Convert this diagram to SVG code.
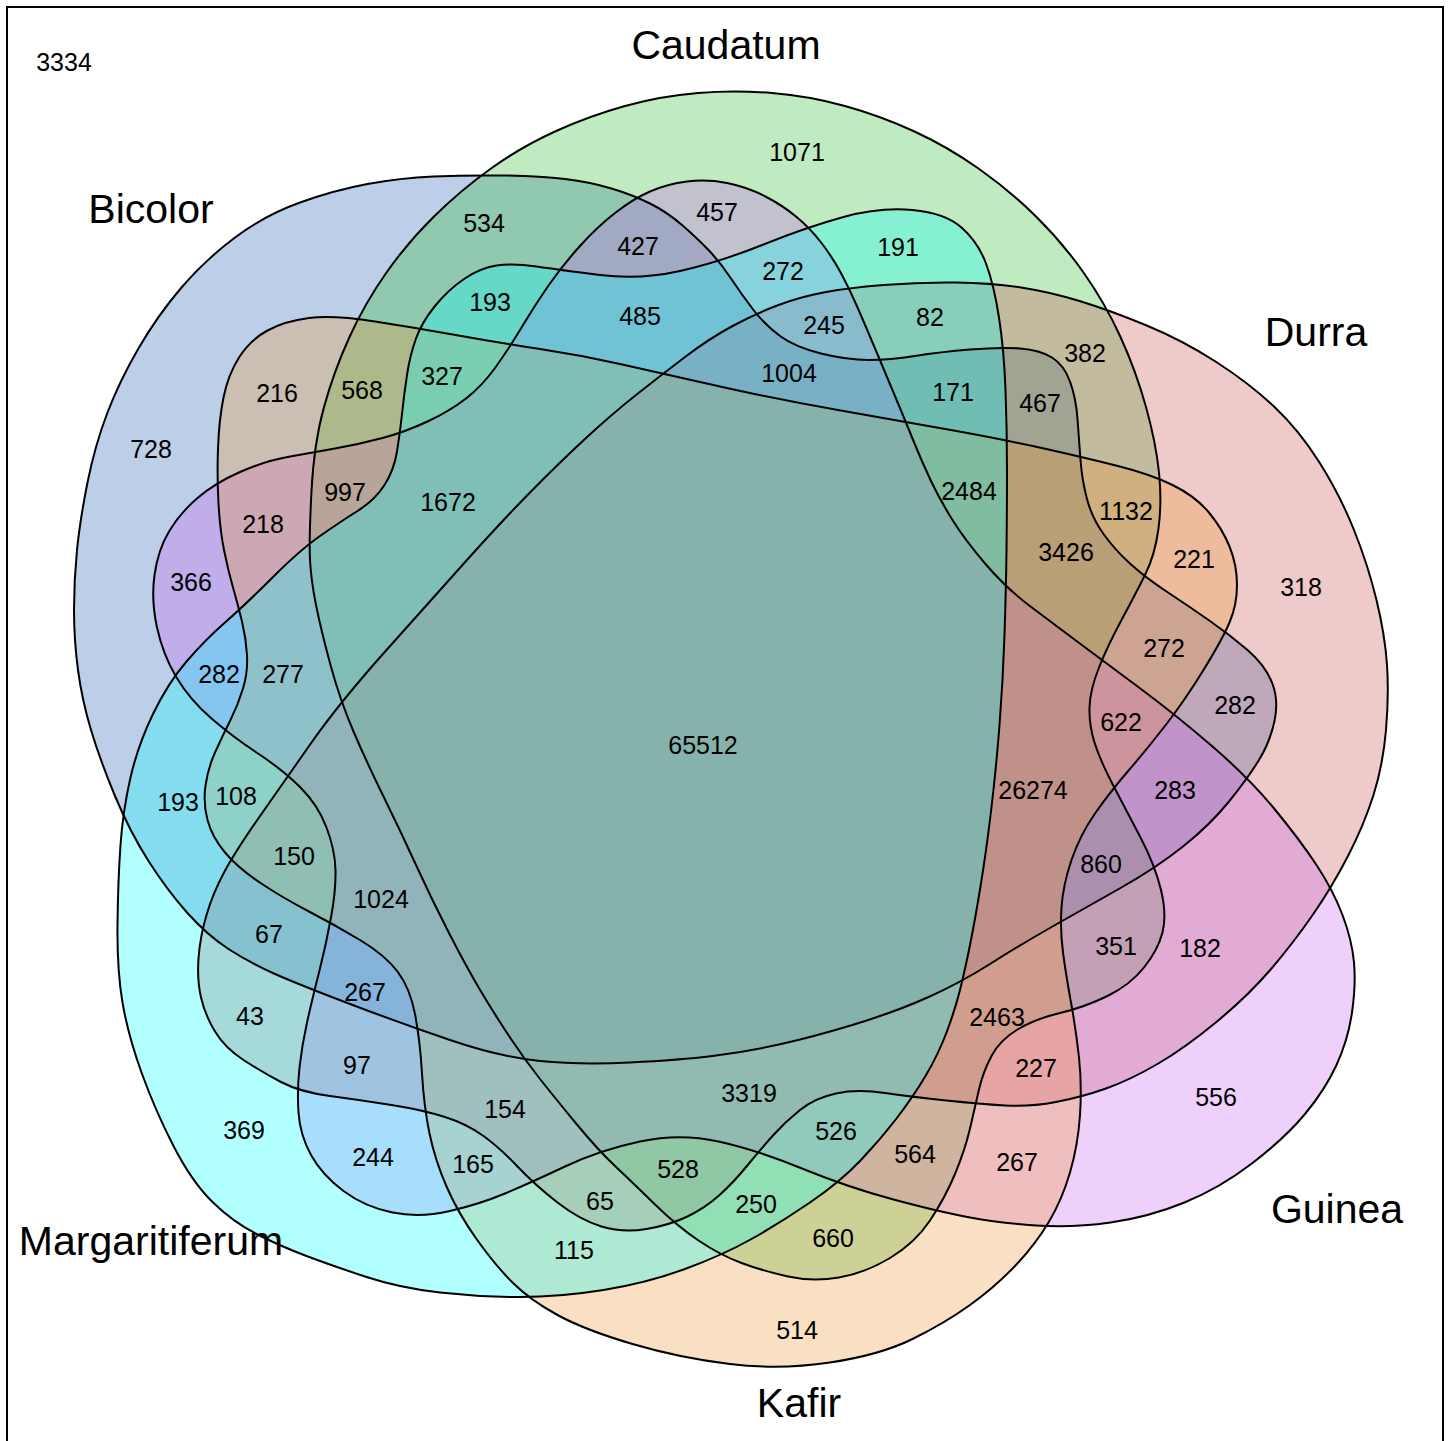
<svg xmlns="http://www.w3.org/2000/svg" xmlns:xlink="http://www.w3.org/1999/xlink" width="1449" height="1441" viewBox="0 0 1449 1441">
<style>
.num{font-family:"Liberation Sans",Arial,sans-serif;font-size:25px;text-anchor:middle;fill:#000}
.name{font-family:"Liberation Sans",Arial,sans-serif;font-size:41px;text-anchor:middle;fill:#000}
.fillset{fill-opacity:0.3;stroke:none}
.line{fill:none;stroke:#000;stroke-width:2}
</style>
<defs>
<path id="pB" d="M433.5,176.5 Q467,175 503.5,175.5 Q540,176 565,179 Q590,182 611.5,188.5 Q633,195 650,203.5 Q667,212 682,225 Q697,238 708.5,250 Q720,262 731,278.5 Q742,295 753.5,310 Q765,325 780,336 Q795,347 821,353.5 Q847,360 868.5,360 Q890,360 915,356 Q940,352 970,349.5 Q1000,347 1020,348.5 Q1040,350 1052,357.5 Q1064,365 1070,381.5 Q1076,398 1077.5,419 Q1079,440 1080.5,460 Q1082,480 1087,499 Q1092,518 1103.5,534 Q1115,550 1130.5,564 Q1146,578 1168,592.5 Q1190,607 1210,621 Q1230,635 1247.5,650 Q1265,665 1272,682.5 Q1279,700 1274.5,721 Q1270,742 1259,760 Q1248,778 1229,801.5 Q1210,825 1183,846.5 Q1156,868 1120.5,888 Q1085,908 1052.5,926.5 Q1020,945 990,964 Q960,983 927.5,997.5 Q895,1012 854,1024.5 Q813,1037 779,1044.5 Q745,1052 712.5,1056 Q680,1060 630,1062.5 Q580,1065 540,1061 Q500,1057 450,1040 Q400,1023 350,1004 Q300,985 275,974 Q250,963 228.5,949 Q207,935 187,912.5 Q167,890 148.5,861 Q130,832 115,796 Q100,760 91,730 Q82,700 78,670 Q74,640 74,610 Q74,580 77,550 Q80,520 87.5,482.5 Q95,445 107.5,412.5 Q120,380 139,347.5 Q158,315 181.5,287.5 Q205,260 235,237.5 Q265,215 300,202.5 Q335,190 367.5,184 Q400,178 433.5,176.5 Z"/>
<path id="pC" d="M310,559.5 Q309,539 311.5,491 Q314,443 324,407 Q334,371 349.5,337 Q365,303 386.5,272.5 Q408,242 434.5,216 Q461,190 491,168.5 Q521,147 555,131.5 Q589,116 625,106 Q661,96 698,93 Q735,90 772,93 Q809,96 845,106 Q881,116 914.5,131.5 Q948,147 978.5,168.5 Q1009,190 1035.5,216 Q1062,242 1083.5,272.5 Q1105,303 1120.5,337 Q1136,371 1146,407 Q1156,443 1159,472.5 Q1162,502 1158.5,528.5 Q1155,555 1145,575 Q1135,595 1121.5,620 Q1108,645 1099,667.5 Q1090,690 1089.5,707.5 Q1089,725 1094.5,742.5 Q1100,760 1112.5,784 Q1125,808 1140,836.5 Q1155,865 1161,890 Q1167,915 1162.5,932.5 Q1158,950 1144,967.5 Q1130,985 1107.5,996 Q1085,1007 1060,1013 Q1035,1019 1017.5,1029.5 Q1000,1040 991.5,1056 Q983,1072 979,1089.5 Q975,1107 970,1128.5 Q965,1150 955,1174 Q945,1198 930,1220.5 Q915,1243 890,1258 Q865,1273 839,1277.5 Q813,1282 788,1276.5 Q763,1271 741.5,1263 Q720,1255 698.5,1240.5 Q677,1226 654.5,1204 Q632,1182 615,1166 Q598,1150 576.5,1124 Q555,1098 540,1079 Q525,1060 510,1037.5 Q495,1015 481,991.5 Q467,968 449.5,934 Q432,900 416,865 Q400,830 383.5,796.5 Q367,763 353.5,731.5 Q340,700 330.5,665 Q321,630 316,605 Q311,580 310,559.5 Z"/>
<path id="pD" d="M1079.5,301 Q1109,310 1145.5,325 Q1182,340 1215.5,361.5 Q1249,383 1274,406.5 Q1299,430 1319.5,462.5 Q1340,495 1354,530 Q1368,565 1376.5,600 Q1385,635 1387,665 Q1389,695 1386,730 Q1383,765 1373.5,795 Q1364,825 1348,856 Q1332,887 1313,914.5 Q1294,942 1271.5,968.5 Q1249,995 1217,1021.5 Q1185,1048 1157.5,1064 Q1130,1080 1106,1088.5 Q1082,1097 1056,1102 Q1030,1107 1005,1105.5 Q980,1104 946.5,1100.5 Q913,1097 885,1093 Q857,1089 836,1093.5 Q815,1098 800,1110 Q785,1122 772.5,1136 Q760,1150 746.5,1166.5 Q733,1183 719,1195.5 Q705,1208 687.5,1216.5 Q670,1225 646.5,1229 Q623,1233 601.5,1226.5 Q580,1220 557.5,1202.5 Q535,1185 517.5,1166.5 Q500,1148 483.5,1136 Q467,1124 445,1117 Q423,1110 391.5,1105 Q360,1100 330,1096 Q300,1092 281,1082 Q262,1072 243.5,1060 Q225,1048 215,1031.5 Q205,1015 201,997.5 Q197,980 198.5,958.5 Q200,937 206.5,915 Q213,893 224,872.5 Q235,852 259,817.5 Q283,783 311.5,742.5 Q340,702 386.5,650 Q433,598 466.5,560.5 Q500,523 530,492.5 Q560,462 586,438 Q612,414 636,395 Q660,376 685,357 Q710,338 733.5,325.5 Q757,313 778.5,305 Q800,297 823.5,292.5 Q847,288 883.5,285 Q920,282 956,282.5 Q992,283 1021,287.5 Q1050,292 1079.5,301 Z"/>
<path id="pG" d="M931,481 Q940,500 952.5,520 Q965,540 985.5,564 Q1006,588 1030.5,606.5 Q1055,625 1078.5,642.5 Q1102,660 1139,687.5 Q1176,715 1212.5,746.5 Q1249,778 1274.5,809 Q1300,840 1316.5,865 Q1333,890 1342.5,915 Q1352,940 1354,962.5 Q1356,985 1352,1012.5 Q1348,1040 1336.5,1065 Q1325,1090 1305,1114 Q1285,1138 1252.5,1163 Q1220,1188 1184.5,1202.5 Q1149,1217 1110.5,1222.5 Q1072,1228 1036,1225.5 Q1000,1223 970,1217.5 Q940,1212 893.5,1199.5 Q847,1187 802,1168.5 Q757,1150 718.5,1141.5 Q680,1133 640,1141.5 Q600,1150 565,1166.5 Q530,1183 505,1193.5 Q480,1204 450,1211 Q420,1218 392.5,1212.5 Q365,1207 343.5,1191 Q322,1175 311,1155 Q300,1135 298.5,1112.5 Q297,1090 299.5,1067.5 Q302,1045 307,1022.5 Q312,1000 319,972.5 Q326,945 331,917.5 Q336,890 335.5,870 Q335,850 326.5,827.5 Q318,805 300.5,787.5 Q283,770 258,753.5 Q233,737 211.5,718.5 Q190,700 176.5,677.5 Q163,655 157,627.5 Q151,600 154.5,575 Q158,550 169,531.5 Q180,513 197.5,498 Q215,483 240,472 Q265,461 287.5,457 Q310,453 335,448.5 Q360,444 382.5,438 Q405,432 427.5,421.5 Q450,411 466,398.5 Q482,386 495,368 Q508,350 521.5,327.5 Q535,305 548.5,285.5 Q562,266 579.5,246.5 Q597,227 615,213 Q633,199 650,191.5 Q667,184 687,181.5 Q707,179 727,183 Q747,187 764.5,196 Q782,205 796,216.5 Q810,228 821.5,243 Q833,258 841.5,274 Q850,290 858,308.5 Q866,327 874,346 Q882,365 893.5,392.5 Q905,420 913.5,441 Q922,462 931,481 Z"/>
<path id="pK" d="M218.5,503.5 Q217,477 218,448.5 Q219,420 223.5,397.5 Q228,375 239,357.5 Q250,340 267.5,330.5 Q285,321 309,318 Q333,315 375,321.5 Q417,328 458.5,335.5 Q500,343 540,349 Q580,355 620,364 Q660,373 720,386.5 Q780,400 843.5,411 Q907,422 956.5,431 Q1006,440 1044,448.5 Q1082,457 1116,465.5 Q1150,474 1172.5,485 Q1195,496 1208.5,512 Q1222,528 1229.5,546.5 Q1237,565 1237,585 Q1237,605 1229.5,622.5 Q1222,640 1203.5,670 Q1185,700 1166.5,724 Q1148,748 1129,770 Q1110,792 1095,813.5 Q1080,835 1071.5,860 Q1063,885 1061.5,907.5 Q1060,930 1063,952.5 Q1066,975 1071,1002.5 Q1076,1030 1079,1057.5 Q1082,1085 1080,1115 Q1078,1145 1070,1172.5 Q1062,1200 1048.5,1222.5 Q1035,1245 1015,1266 Q995,1287 970,1305 Q945,1323 912.5,1339 Q880,1355 830,1362.5 Q780,1370 730,1364 Q680,1358 632.5,1344 Q585,1330 557.5,1315 Q530,1300 512.5,1282.5 Q495,1265 476.5,1239 Q458,1213 446.5,1186.5 Q435,1160 429.5,1133.5 Q424,1107 422,1073.5 Q420,1040 415,1014 Q410,988 397.5,971.5 Q385,955 360,940 Q335,925 309,911.5 Q283,898 260.5,883 Q238,868 225,852.5 Q212,837 207.5,820 Q203,803 205.5,785.5 Q208,768 215,752.5 Q222,737 230,721 Q238,705 243,688.5 Q248,672 247,655 Q246,638 242,621.5 Q238,605 233,587.5 Q228,570 224,550 Q220,530 218.5,503.5 Z"/>
<path id="pM" d="M122.5,1002.5 Q117,970 117.5,925 Q118,880 120.5,845 Q123,810 130.5,777.5 Q138,745 153,714 Q168,683 186.5,661.5 Q205,640 225,622.5 Q245,605 272.5,577.5 Q300,550 320,536 Q340,522 357.5,511 Q375,500 384.5,485 Q394,470 397,451.5 Q400,433 402,414 Q404,395 407,375 Q410,355 416,338.5 Q422,322 435,306 Q448,290 464,279 Q480,268 496.5,265.5 Q513,263 536.5,266.5 Q560,270 600,275 Q640,280 680,271 Q720,262 763.5,244.5 Q807,227 843.5,217 Q880,207 912.5,210 Q945,213 961.5,227.5 Q978,242 986,263.5 Q994,285 999,317.5 Q1004,350 1005.5,390 Q1007,430 1007,470 Q1007,510 1006.5,550 Q1006,590 1004.5,635 Q1003,680 999.5,725 Q996,770 991,811.5 Q986,853 980.5,886.5 Q975,920 970,945 Q965,970 960,990 Q955,1010 946.5,1032.5 Q938,1055 925.5,1076 Q913,1097 896.5,1118.5 Q880,1140 860,1161 Q840,1182 810,1202.5 Q780,1223 751.5,1239 Q723,1255 685,1269 Q647,1283 603.5,1290 Q560,1297 520,1297 Q480,1297 440,1292.5 Q400,1288 366.5,1277 Q333,1266 306.5,1256 Q280,1246 256.5,1234 Q233,1222 212.5,1202 Q192,1182 173.5,1146 Q155,1110 141.5,1072.5 Q128,1035 122.5,1002.5 Z"/>
</defs>
<rect x="0" y="0" width="1449" height="1441" fill="#fff"/>
<rect x="7" y="7" width="1436" height="1460" fill="none" stroke="#000" stroke-width="2"/>
<g id="set-bicolor">
<use xlink:href="#pB" href="#pB" class="fillset" fill="#205CB2"/>
<text class="name" x="151" y="223">Bicolor</text>
</g>
<g id="set-caudatum">
<use xlink:href="#pC" href="#pC" class="fillset" fill="#2DB92D"/>
<text class="name" x="726" y="59">Caudatum</text>
</g>
<g id="set-durra">
<use xlink:href="#pD" href="#pD" class="fillset" fill="#C64E4E"/>
<text class="name" x="1316" y="346">Durra</text>
</g>
<g id="set-guinea">
<use xlink:href="#pG" href="#pG" class="fillset" fill="#C662EE"/>
<text class="name" x="1337" y="1223">Guinea</text>
</g>
<g id="set-kafir">
<use xlink:href="#pK" href="#pK" class="fillset" fill="#EE9834"/>
<text class="name" x="799" y="1417">Kafir</text>
</g>
<g id="set-margaritiferum">
<use xlink:href="#pM" href="#pM" class="fillset" fill="#00FFFF"/>
<text class="name" x="151" y="1255">Margaritiferum</text>
</g>
<g id="outlines">
<use xlink:href="#pB" href="#pB" class="line"/>
<use xlink:href="#pC" href="#pC" class="line"/>
<use xlink:href="#pD" href="#pD" class="line"/>
<use xlink:href="#pG" href="#pG" class="line"/>
<use xlink:href="#pK" href="#pK" class="line"/>
<use xlink:href="#pM" href="#pM" class="line"/>
</g>
<g id="counts">
<text class="num" x="64" y="71">3334</text>
<text class="num" x="797" y="161">1071</text>
<text class="num" x="484" y="232">534</text>
<text class="num" x="717" y="221">457</text>
<text class="num" x="638" y="255">427</text>
<text class="num" x="898" y="256">191</text>
<text class="num" x="783" y="280">272</text>
<text class="num" x="490" y="311">193</text>
<text class="num" x="640" y="325">485</text>
<text class="num" x="824" y="334">245</text>
<text class="num" x="930" y="326">82</text>
<text class="num" x="1085" y="362">382</text>
<text class="num" x="277" y="402">216</text>
<text class="num" x="362" y="399">568</text>
<text class="num" x="442" y="385">327</text>
<text class="num" x="789" y="382">1004</text>
<text class="num" x="953" y="401">171</text>
<text class="num" x="1040" y="412">467</text>
<text class="num" x="151" y="458">728</text>
<text class="num" x="345" y="501">997</text>
<text class="num" x="448" y="511">1672</text>
<text class="num" x="969" y="500">2484</text>
<text class="num" x="1126" y="520">1132</text>
<text class="num" x="263" y="533">218</text>
<text class="num" x="1066" y="561">3426</text>
<text class="num" x="1194" y="568">221</text>
<text class="num" x="1301" y="596">318</text>
<text class="num" x="191" y="591">366</text>
<text class="num" x="1164" y="657">272</text>
<text class="num" x="219" y="683">282</text>
<text class="num" x="283" y="683">277</text>
<text class="num" x="1235" y="714">282</text>
<text class="num" x="1121" y="731">622</text>
<text class="num" x="703" y="754">65512</text>
<text class="num" x="178" y="811">193</text>
<text class="num" x="236" y="805">108</text>
<text class="num" x="1175" y="799">283</text>
<text class="num" x="1033" y="799">26274</text>
<text class="num" x="294" y="865">150</text>
<text class="num" x="1101" y="873">860</text>
<text class="num" x="381" y="908">1024</text>
<text class="num" x="269" y="943">67</text>
<text class="num" x="1116" y="955">351</text>
<text class="num" x="1200" y="957">182</text>
<text class="num" x="365" y="1001">267</text>
<text class="num" x="250" y="1025">43</text>
<text class="num" x="997" y="1026">2463</text>
<text class="num" x="1036" y="1077">227</text>
<text class="num" x="357" y="1074">97</text>
<text class="num" x="749" y="1102">3319</text>
<text class="num" x="1216" y="1106">556</text>
<text class="num" x="505" y="1118">154</text>
<text class="num" x="836" y="1140">526</text>
<text class="num" x="244" y="1139">369</text>
<text class="num" x="915" y="1163">564</text>
<text class="num" x="373" y="1166">244</text>
<text class="num" x="473" y="1173">165</text>
<text class="num" x="1017" y="1171">267</text>
<text class="num" x="678" y="1178">528</text>
<text class="num" x="600" y="1210">65</text>
<text class="num" x="756" y="1213">250</text>
<text class="num" x="833" y="1247">660</text>
<text class="num" x="574" y="1259">115</text>
<text class="num" x="797" y="1339">514</text>
</g>
</svg>
